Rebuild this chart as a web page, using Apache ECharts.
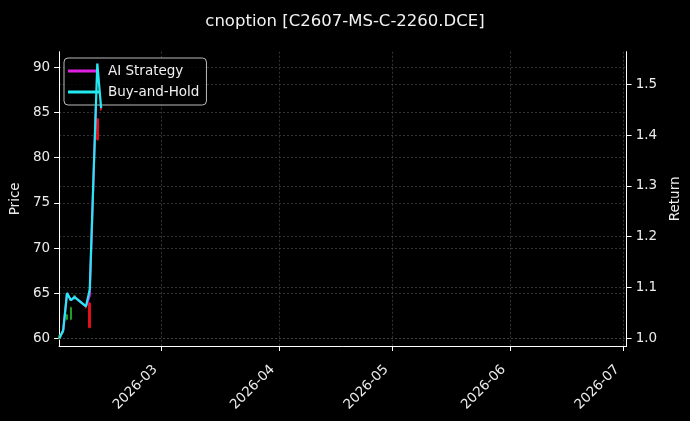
<!DOCTYPE html>
<html>
<head>
<meta charset="utf-8">
<script src="https://cdn.jsdelivr.net/npm/echarts@6/dist/echarts.min.js"></script>
<style>
html,body{margin:0;padding:0;background:#000;}
#c{width:690px;height:421px;}
</style>
</head>
<body>
<div id="c"></div>
<script>
// ---- data ----
const dates = ['2026-02-02','2026-02-03','2026-02-04','2026-02-05','2026-02-06','2026-02-09','2026-02-10','2026-02-11','2026-02-12','2026-02-13'];
// OHLC: [open, close, low, high]; '-' = no candle
const ohlc = [
  [60.0, 60.3, 59.8, 60.4],
  [60.6, 60.9, 60.5, 61.1],
  [62.1, 62.6, 62.0, 62.7],
  [62.1, 63.4, 62.0, 63.5],
  [64.4, 64.7, 64.3, 64.8],
  [63.6, 63.4, 63.3, 63.7],
  [63.9, 61.2, 61.1, 64.0],
  '-',
  [84.3, 82.0, 81.9, 84.4],
  [85.6, 85.3, 85.2, 85.7]
];
const aiReturn  = [1.000, 1.016, 1.089, 1.075, 1.081, 1.063, 1.084, 1.319, 1.541, 1.453];
const bhReturn  = [1.000, 1.016, 1.089, 1.075, 1.081, 1.063, 1.096, 1.319, 1.541, 1.453];
const priceTicks  = [60, 65, 70, 75, 80, 85, 90];
const returnTicks = [1.0, 1.1, 1.2, 1.3, 1.4, 1.5];
const monthTicks  = ['2026-03-01','2026-04-01','2026-05-01','2026-06-01','2026-07-01'];

function ts(s){ const p=s.split('-').map(Number); return new Date(p[0],p[1]-1,p[2]).getTime(); }
const DAY = 86400000;
const xMin = ts('2026-02-02') - 0.1*DAY;
const xMax = ts('2026-07-01') + 0.8*DAY;

const candleData = dates.map((d,i)=> ohlc[i]==='-' ? [ts(d),'-','-','-','-'] : [ts(d)].concat(ohlc[i]));
const aiData = dates.map((d,i)=>[ts(d), aiReturn[i]]);
const bhData = dates.map((d,i)=>[ts(d), bhReturn[i]]);

const font = 'DejaVu Sans';
const txt = '#ececec';
const fs = 13.5;
const gridLine = {show:true, lineStyle:{color:'#4a4a4a', width:0.7, type:[2,2]}};

const chart = echarts.init(document.getElementById('c'), null, {renderer:'canvas'});
chart.setOption({
  backgroundColor:'#000',
  animation:false,
  textStyle:{fontFamily:font},
  title:{
    text:'cnoption [C2607-MS-C-2260.DCE]',
    left:'center', top:8,
    textStyle:{color:'#f2f2f2', fontSize:16.5, fontWeight:'normal', fontFamily:font}
  },
  legend:{
    left:64, top:58, orient:'vertical',
    padding:[6,7,6,4],
    itemGap:7,
    itemWidth:31, itemHeight:3,
    borderColor:'#bbbbbb', borderWidth:1, borderRadius:4,
    backgroundColor:'rgba(0,0,0,0.8)',
    textStyle:{color:'#f0f0f0', fontSize:fs, fontFamily:font, padding:[0,0,0,4]},
    data:[{name:'AI Strategy', icon:'rect'},{name:'Buy-and-Hold', icon:'rect'}]
  },
  grid:{left:57.6, right:61.6, top:51.7, bottom:75, containLabel:false},
  xAxis:{
    type:'value', min:xMin, max:xMax,
    axisLine:{lineStyle:{color:'#ffffff', width:1}},
    axisTick:{show:true, length:5, lineStyle:{color:'#ffffff'}, customValues: monthTicks.map(ts)},
    axisLabel:{
      color:txt, fontSize:fs, fontFamily:font, rotate:45, margin:15,
      padding:[0,9,0,0],
      customValues: monthTicks.map(ts),
      formatter:function(v){ const d=new Date(v); const m=d.getMonth()+1; return d.getFullYear()+'-'+(m<10?'0'+m:m); }
    },
    splitLine:gridLine
  },
  yAxis:[
    {
      type:'value', min:59.147, max:91.74, position:'left',
      name:'Price', nameLocation:'middle', nameGap:32, nameRotate:90,
      nameTextStyle:{color:txt, fontSize:fs, fontFamily:font},
      axisLine:{show:true, lineStyle:{color:'#ffffff', width:1}},
      axisTick:{show:true, length:5, lineStyle:{color:'#ffffff'}, customValues:priceTicks},
      axisLabel:{color:txt, fontSize:fs, fontFamily:font, margin:9, customValues:priceTicks},
      splitLine:gridLine
    },
    {
      type:'value', min:0.9848, max:1.5642, position:'right',
      name:'Return', nameLocation:'middle', nameGap:38, nameRotate:90,
      nameTextStyle:{color:txt, fontSize:fs, fontFamily:font},
      axisLine:{show:true, lineStyle:{color:'#ffffff', width:1}},
      axisTick:{show:true, length:5, lineStyle:{color:'#ffffff'}, customValues:returnTicks},
      axisLabel:{color:txt, fontSize:fs, fontFamily:font, margin:9, customValues:returnTicks,
        formatter:function(v){return v.toFixed(1);}},
      splitLine:gridLine
    }
  ],
  series:[
    {
      type:'candlestick', name:'Price', yAxisIndex:0,
      barWidth:2,
      itemStyle:{color:'#1f9e1f', color0:'#e0101a', borderColor:'#1f9e1f', borderColor0:'#e0101a', borderWidth:1},
      data:candleData, z:2
    },
    {
      type:'line', name:'AI Strategy', yAxisIndex:1,
      showSymbol:false, symbol:'none',
      lineStyle:{color:'#e020e0', width:2.2},
      itemStyle:{color:'#e020e0'},
      data:aiData, z:3
    },
    {
      type:'line', name:'Buy-and-Hold', yAxisIndex:1,
      showSymbol:false, symbol:'none',
      lineStyle:{color:'#22eaf0', width:2.2},
      itemStyle:{color:'#22eaf0'},
      data:bhData, z:4
    }
  ]
});
</script>
</body>
</html>
